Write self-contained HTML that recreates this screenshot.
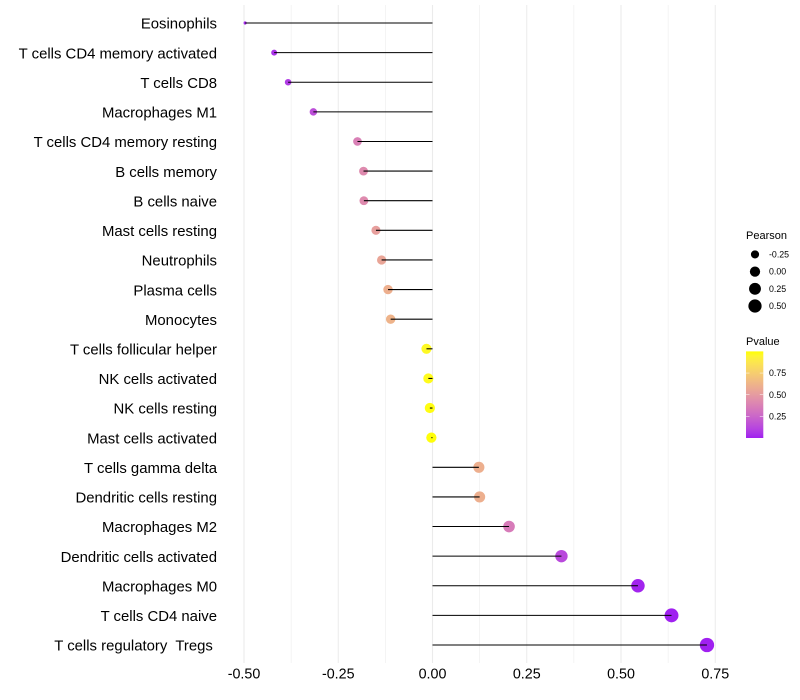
<!DOCTYPE html>
<html>
<head>
<meta charset="utf-8">
<title>Pearson correlation lollipop chart</title>
<style>
html,body{margin:0;padding:0;background:#fff;width:800px;height:700px;overflow:hidden}
svg{display:block}
text{font-family:"Liberation Sans",sans-serif;white-space:pre}
</style>
</head>
<body>
<svg id="chart" width="800" height="700" viewBox="0 0 800 700" xmlns="http://www.w3.org/2000/svg">
<g id="grid"></g>
<g id="points"></g>
<g id="stems"></g>
<g id="ylabels"></g>
<g id="xlabels"></g>
<g id="legend-size"></g>
<g id="legend-color"></g>
</svg>
<script>
const categories = ["Eosinophils","T cells CD4 memory activated","T cells CD8","Macrophages M1","T cells CD4 memory resting","B cells memory","B cells naive","Mast cells resting","Neutrophils","Plasma cells","Monocytes","T cells follicular helper","NK cells activated","NK cells resting","Mast cells activated","T cells gamma delta","Dendritic cells resting","Macrophages M2","Dendritic cells activated","Macrophages M0","T cells CD4 naive","T cells regulatory  Tregs "];
const pearson = [-0.497,-0.42,-0.383,-0.316,-0.199,-0.183,-0.182,-0.15,-0.135,-0.118,-0.111,-0.016,-0.011,-0.007,-0.003,0.123,0.125,0.203,0.342,0.545,0.634,0.728];
const pvalues = [0.02,0.05,0.08,0.15,0.37,0.42,0.42,0.52,0.55,0.6,0.62,0.97,0.98,0.99,0.995,0.6,0.6,0.35,0.13,0.01,0.002,0.001];
const xTicks = [-0.5,-0.25,0,0.25,0.5,0.75];
const xTickLabels = ["-0.50","-0.25","0.00","0.25","0.50","0.75"];
const xMinorTicks = [-0.375,-0.125,0.125,0.375,0.625];
const sizeLegendValues = [-0.25,0,0.25,0.5];
const sizeLegendLabels = ["-0.25","0.00","0.25","0.50"];
const colorLegendValues = [0.25,0.5,0.75];
const colorLegendLabels = ["0.25","0.50","0.75"];

const NS = "http://www.w3.org/2000/svg";
function el(tag, attrs, parent, text){
  const n = document.createElementNS(NS, tag);
  for (const k in attrs) n.setAttribute(k, attrs[k]);
  if (text !== undefined) n.textContent = text;
  parent.appendChild(n);
  return n;
}
const xScale = v => 432.5 + v * 377;
const yScale = i => 23 + i * (622 / (categories.length - 1));
const pMin = Math.min(...pearson), pMax = Math.max(...pearson);
const rScale = v => {
  const t = Math.max(0, (v - pMin) / (pMax - pMin));
  return (1 + 5 * Math.sqrt(t)) * 1.12 + 0.45;
};
function toLab(hex){
  const c = [1,3,5].map(i => parseInt(hex.substr(i,2),16)/255).map(u => u <= 0.04045 ? u/12.92 : Math.pow((u+0.055)/1.055,2.4));
  const X=(0.4124*c[0]+0.3576*c[1]+0.1805*c[2])/0.95047, Y=0.2126*c[0]+0.7152*c[1]+0.0722*c[2], Z=(0.0193*c[0]+0.1192*c[1]+0.9505*c[2])/1.08883;
  const f = t => t > 0.008856 ? Math.cbrt(t) : 7.787*t + 16/116;
  return [116*f(Y)-16, 500*(f(X)-f(Y)), 200*(f(Y)-f(Z))];
}
function fromLab(L){
  const fy=(L[0]+16)/116, fx=fy+L[1]/500, fz=fy-L[2]/200;
  const g = t => t*t*t > 0.008856 ? t*t*t : (t-16/116)/7.787;
  const X=g(fx)*0.95047, Y=g(fy), Z=g(fz)*1.08883;
  const l=[3.2406*X-1.5372*Y-0.4986*Z, -0.9689*X+1.8758*Y+0.0415*Z, 0.0557*X-0.204*Y+1.057*Z];
  const s=l.map(u=>{u=Math.max(0,Math.min(1,u));return Math.round(255*(u<=0.0031308?12.92*u:1.055*Math.pow(u,1/2.4)-0.055));});
  return "rgb("+s.join(",")+")";
}
const lowLab = toLab("#a020f0"), highLab = toLab("#ffff00");
const colorScale = p => fromLab(lowLab.map((v,i)=>v+(highLab[i]-v)*p));

const gGrid = document.getElementById("grid");
xMinorTicks.forEach(t=>{
  const l = el("line",{x1:xScale(t),x2:xScale(t),y1:5,y2:663,stroke:"#ebebeb","stroke-width":0.55},gGrid);
  
  
});
xTicks.forEach(t=>{
  const l = el("line",{x1:xScale(t),x2:xScale(t),y1:5,y2:663,stroke:"#ebebeb","stroke-width":1.07},gGrid);
  
  
});

const gPoints = document.getElementById("points");
const gStems = document.getElementById("stems");
const gY = document.getElementById("ylabels");
categories.forEach((c,i)=>{
  const pt = el("circle",{cx:xScale(pearson[i]),cy:yScale(i),r:rScale(pearson[i]),fill:colorScale(pvalues[i])},gPoints);
  
  
  const st = el("line",{x1:xScale(0),x2:xScale(pearson[i]),y1:yScale(i),y2:yScale(i),stroke:"#000","stroke-width":1.07},gStems);
  
  
  const tx = el("text",{x:217,y:yScale(i)+5.7,"text-anchor":"end","font-size":14.9,fill:"#000"},gY,c);
  
  
});

const gX = document.getElementById("xlabels");
xTicks.forEach((t,i)=>{
  const tx = el("text",{x:xScale(t),y:678.6,"text-anchor":"middle","font-size":14.3,fill:"#000"},gX,xTickLabels[i]);
  
  
});

const gS = document.getElementById("legend-size");
const sizeTitle = el("text",{x:746,y:239,"font-size":11,fill:"#000"},gS,"Pearson");


sizeLegendValues.forEach((v,i)=>{
  const cy = 254.4 + i * 17.2;
  const k = el("circle",{cx:755,cy:cy,r:rScale(v),fill:"#000"},gS);
  
  
  const t = el("text",{x:769,y:cy+3.1,"font-size":8.8,fill:"#000"},gS,sizeLegendLabels[i]);
  
  
});

const gC = document.getElementById("legend-color");
const colorTitle = el("text",{x:746,y:345,"font-size":11,fill:"#000"},gC,"Pvalue");


const barY = p => 438 - p * 86.6;
const defs = el("defs",{},gC);
const grad = el("linearGradient",{id:"pgrad",x1:0,y1:1,x2:0,y2:0},defs);
for (let s=0;s<=20;s++){ el("stop",{offset:s/20,"stop-color":colorScale(s/20)},grad); }
const bar = el("rect",{x:746,y:barY(1),width:17.3,height:86.6,fill:"url(#pgrad)"},gC);


colorLegendValues.forEach((v,i)=>{
  const y = barY(v);
  const a = el("line",{x1:746,x2:749.5,y1:y,y2:y,stroke:"#fff","stroke-width":0.5},gC);
  
  
  const b = el("line",{x1:759.8,x2:763.3,y1:y,y2:y,stroke:"#fff","stroke-width":0.5},gC);
  
  
  const t = el("text",{x:769,y:y+3.1,"font-size":8.8,fill:"#000"},gC,colorLegendLabels[i]);
  
  
});
</script>
</body>
</html>
